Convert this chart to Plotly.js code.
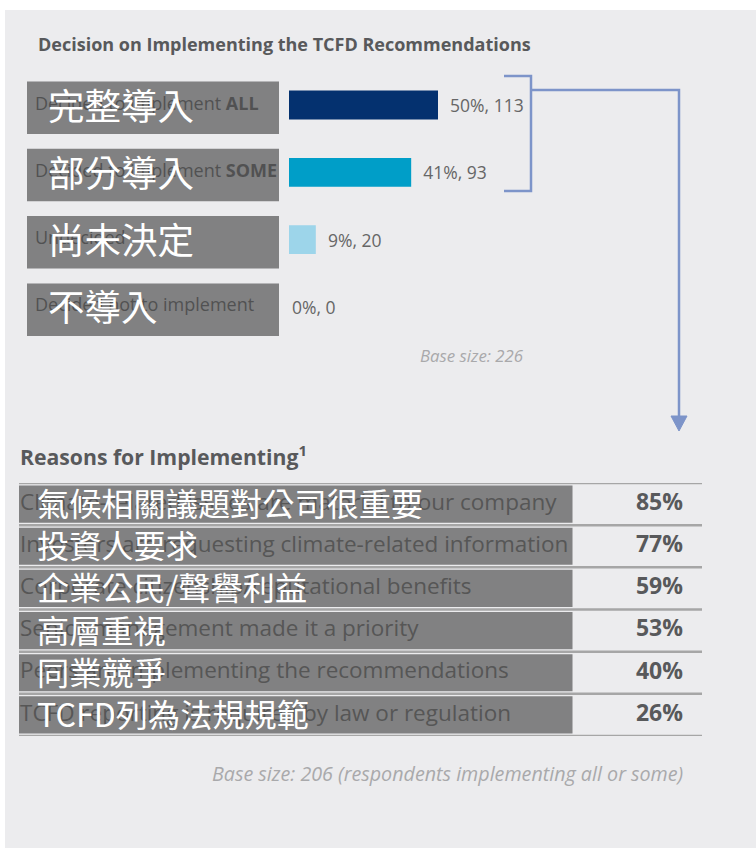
<!DOCTYPE html>
<html><head><meta charset="utf-8">
<script src="https://cdn.plot.ly/plotly-3.0.1.min.js"></script>
<style>html,body{margin:0;padding:0;background:#fff}</style>
</head><body><div id="chart" style="width:756px;height:848px"></div>
<script>
// ---- data ----
const decisionLabels = ['Decided to implement <b>ALL</b>', 'Decided to implement <b>SOME</b>', 'Undecided', 'Decided not to implement'];
const decisionLabelsZh = ['完整導入', '部分導入', '尚未決定', '不導入'];
const decisionPct = [50, 41, 9, 0];
const decisionCount = [113, 93, 20, 0];
const decisionColors = ['#04316f', '#009ec8', '#9dd5ea', '#9dd5ea'];

const reasonLabels = [
  'Climate-related issues are material to our company',
  'Investors are requesting climate-related information',
  'Corporate citizenship/reputational benefits',
  'Senior management made it a priority',
  'Peers are implementing the recommendations',
  'TCFD reporting is required by law or regulation'
];
const reasonLabelsZh = ['氣候相關議題對公司很重要', '投資人要求', '企業公民/聲譽利益', '高層重視', '同業競爭', 'TCFD列為法規規範'];
const reasonPct = [85, 77, 59, 53, 40, 26];

const titleTop = 'Decision on Implementing the TCFD Recommendations';
const baseTop = 'Base size: 226';
const titleBottom = 'Reasons for Implementing<sup>1</sup>';
const baseBottom = 'Base size: 206 (respondents implementing all or some)';

// ---- layout helpers (pixel -> paper) ----
const W = 756, H = 848;
const px = v => v / W;
const py = v => 1 - v / H;
const TXT = '#58595b';
const CJK = '"Noto Sans CJK TC", "Noto Sans CJK SC", sans-serif';
const BOX = 'rgba(78,78,78,0.68)';
const BLUE = '#7d94c9';
const PAD = '\u00a0\u00a0';

const barX0 = 289, barPx100 = 298;

const traces = [
  {
    type: 'bar', orientation: 'h',
    x: decisionPct, y: decisionLabels,
    customdata: decisionCount,
    marker: {color: decisionColors},
    width: 0.43,
    texttemplate: decisionPct.map(v => (v > 0 ? PAD : '') + '%{x}%, %{customdata}'),
    textposition: 'outside',
    textfont: {family: 'Open Sans', size: 17.5, color: '#666'},
    cliponaxis: false, hoverinfo: 'skip', showlegend: false
  },
  {
    type: 'scatter', mode: 'text', xaxis: 'x3', yaxis: 'y',
    x: decisionLabels.map(() => 35), y: decisionLabels,
    text: decisionLabels, textposition: 'middle right',
    textfont: {family: 'Open Sans', size: 18, color: TXT},
    cliponaxis: false, hoverinfo: 'skip', showlegend: false
  },
  {
    type: 'scatter', mode: 'text', xaxis: 'x2', yaxis: 'y2',
    x: reasonLabels.map(() => 20), y: reasonLabels,
    text: reasonLabels, textposition: 'middle right',
    textfont: {family: 'Open Sans', size: 22.5, color: '#666'},
    cliponaxis: false, hoverinfo: 'skip', showlegend: false
  },
  {
    type: 'scatter', mode: 'text', xaxis: 'x2', yaxis: 'y2',
    x: reasonLabels.map(() => 683), y: reasonLabels,
    text: reasonPct.map(v => '<b>' + v + '%</b>'), textposition: 'middle left',
    textfont: {family: 'Open Sans', size: 23, color: TXT},
    cliponaxis: false, hoverinfo: 'skip', showlegend: false
  }
];

const shapes = [
  {type: 'rect', xref: 'paper', yref: 'paper', x0: px(5), x1: 1, y0: 0, y1: py(10),
   fillcolor: '#ececee', line: {width: 0}, layer: 'below'}
];
decisionLabels.forEach((c, i) => {
  shapes.push({type: 'rect', xref: 'paper', yref: 'y', x0: px(27), x1: px(279),
    y0: i - 0.35, y1: i + 0.43, fillcolor: BOX, line: {width: 0}, layer: 'above'});
});
for (let k = 0; k <= reasonLabels.length; k++) {
  shapes.push({type: 'line', xref: 'paper', yref: 'y2', x0: px(19), x1: px(702),
    y0: k - 0.5, y1: k - 0.5, line: {color: '#a6a6a6', width: 2.5}, layer: 'below'});
}
reasonLabels.forEach((c, i) => {
  shapes.push({type: 'rect', xref: 'paper', yref: 'y2', x0: px(19), x1: px(572.5),
    y0: i - 0.44, y1: i + 0.44, fillcolor: BOX, line: {width: 0}, layer: 'above'});
});
// bracket and arrow
shapes.push({type: 'path', xref: 'paper', yref: 'paper',
  path: `M${px(504)},${py(76)} L${px(531)},${py(76)} L${px(531)},${py(191)} L${px(504)},${py(191)}`,
  line: {color: BLUE, width: 2.5}});
shapes.push({type: 'path', xref: 'paper', yref: 'paper',
  path: `M${px(531)},${py(90)} L${px(679)},${py(90)} L${px(679)},${py(418)}`,
  line: {color: BLUE, width: 2.5}});
shapes.push({type: 'path', xref: 'paper', yref: 'paper',
  path: `M${px(671)},${py(416)} L${px(687)},${py(416)} L${px(679)},${py(431)} Z`,
  fillcolor: BLUE, line: {color: BLUE, width: 1}});

const annotations = [
  {xref: 'paper', yref: 'paper', x: px(36), y: py(44), xanchor: 'left', yanchor: 'middle',
   text: '<b>' + titleTop + '</b>', showarrow: false, font: {family: 'Open Sans', size: 18, color: TXT}},
  {xref: 'paper', yref: 'paper', x: px(526), y: py(355), xanchor: 'right', yanchor: 'middle',
   text: '<i>' + baseTop + '</i>', showarrow: false, font: {family: 'Open Sans', size: 16.8, color: '#a9a9ab'}},
  {xref: 'paper', yref: 'paper', x: px(18), y: py(455), xanchor: 'left', yanchor: 'middle',
   text: '<b>' + titleBottom + '</b>', showarrow: false, font: {family: 'Open Sans', size: 21.2, color: TXT}},
  {xref: 'paper', yref: 'paper', x: px(685), y: py(773), xanchor: 'right', yanchor: 'middle',
   text: '<i>' + baseBottom + '</i>', showarrow: false, font: {family: 'Open Sans', size: 19.7, color: '#a9a9ab'}}
];
decisionLabelsZh.forEach((t, i) => {
  annotations.push({xref: 'paper', yref: 'y', x: px(46), y: decisionLabels[i], yshift: 1,
    xanchor: 'left', yanchor: 'middle', text: t, showarrow: false,
    font: {family: CJK, size: 36.5, color: '#ffffff'}});
});
reasonLabelsZh.forEach((t, i) => {
  annotations.push({xref: 'paper', yref: 'y2', x: px(35), y: reasonLabels[i], yshift: 2,
    xanchor: 'left', yanchor: 'middle', text: t, showarrow: false,
    font: {family: CJK, size: 32.2, color: '#ffffff'}});
});

const layout = {
  width: W, height: H, autosize: false,
  margin: {l: 0, r: 0, t: 0, b: 0, pad: 0},
  paper_bgcolor: '#ffffff', plot_bgcolor: 'rgba(0,0,0,0)',
  showlegend: false,
  xaxis: {domain: [px(barX0), px(barX0 + barPx100)], range: [0, 100], visible: false, fixedrange: true},
  yaxis: {domain: [py(340.6), py(71.4)], type: 'category', range: [3.5, -0.5], visible: false, fixedrange: true},
  xaxis3: {domain: [0, 1], range: [0, W], anchor: 'y', visible: false, fixedrange: true},
  xaxis2: {domain: [0, 1], range: [0, W], anchor: 'y2', visible: false, fixedrange: true},
  yaxis2: {domain: [py(736), py(483)], type: 'category', range: [5.5, -0.5], anchor: 'x2', visible: false, fixedrange: true},
  shapes: shapes,
  annotations: annotations,
  font: {family: 'Open Sans', color: TXT}
};

Plotly.newPlot('chart', traces, layout, {displayModeBar: false, staticPlot: true});
</script>
</body></html>
